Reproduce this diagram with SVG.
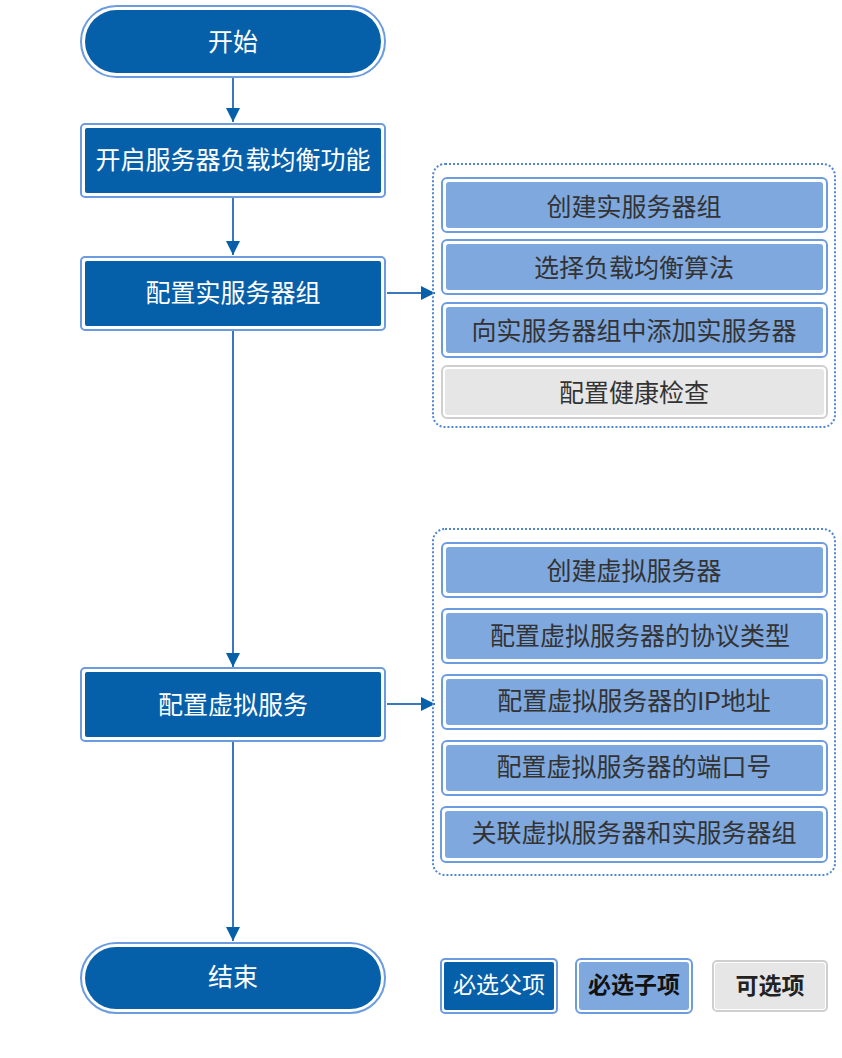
<svg xmlns="http://www.w3.org/2000/svg" width="842" height="1058" viewBox="0 0 842 1058">
<defs>
<style>
.t{font-family:"Liberation Sans","Noto Sans CJK SC",sans-serif;font-size:25px;text-anchor:middle;dominant-baseline:central}
.w{fill:#ffffff}
.d{fill:#333333}
.ob{fill:#ffffff;stroke:#6C9BE0;stroke-width:2}
.df{fill:#0660A9}
.lf{fill:#7EA8DE}
.ogray{fill:#ffffff;stroke:#CFCFCF;stroke-width:2}
.gf{fill:#E6E6E6}
.grp{fill:none;stroke:#4F86D6;stroke-width:2;stroke-dasharray:2 2}
.c{stroke:#3A78BE;stroke-width:2;fill:none}
.lg{font-size:23px}
</style>
<marker id="ah" viewBox="0 0 10 10" refX="10" refY="5" markerWidth="7" markerHeight="7" markerUnits="strokeWidth" orient="auto">
<path d="M0,0 L10,5 L0,10 z" fill="#0660A9"/>
</marker>
</defs>
<rect width="842" height="1058" fill="#ffffff"/>

<g id="connectors">
<line class="c" x1="233" y1="78" x2="233" y2="122" marker-end="url(#ah)"/>
<line class="c" x1="233" y1="198" x2="233" y2="255" marker-end="url(#ah)"/>
<line class="c" x1="233" y1="331" x2="233" y2="667" marker-end="url(#ah)"/>
<line class="c" x1="233" y1="742" x2="233" y2="941" marker-end="url(#ah)"/>
<line class="c" x1="387" y1="293" x2="435" y2="293" marker-end="url(#ah)"/>
<line class="c" x1="387" y1="704" x2="435" y2="704" marker-end="url(#ah)"/>
</g>

<g id="start">
<rect class="ob" x="81" y="6" width="304" height="71" rx="35.5"/>
<rect class="df" x="85" y="10" width="296" height="63" rx="31.5"/>
<text class="t w" x="233" y="42">开始</text>
</g>

<g id="enable">
<rect class="ob" x="81" y="124" width="304" height="73" rx="4"/>
<rect class="df" x="85" y="128" width="296" height="65" rx="2"/>
<text class="t w" x="233" y="160">开启服务器负载均衡功能</text>
</g>

<g id="cfg-real">
<rect class="ob" x="81" y="257" width="304" height="73" rx="4"/>
<rect class="df" x="85" y="261" width="296" height="65" rx="2"/>
<text class="t w" x="233" y="293">配置实服务器组</text>
</g>

<g id="cfg-virtual">
<rect class="ob" x="81" y="668" width="304" height="73" rx="4"/>
<rect class="df" x="85" y="672" width="296" height="65" rx="2"/>
<text class="t w" x="233" y="705">配置虚拟服务</text>
</g>

<g id="end">
<rect class="ob" x="81" y="943" width="304" height="70" rx="35"/>
<rect class="df" x="85" y="947" width="296" height="62" rx="31"/>
<text class="t w" x="233" y="977">结束</text>
</g>

<g id="group1">
<rect class="grp" x="433" y="164" width="402" height="263" rx="12"/>
</g>
<g id="g1-1">
<rect class="ob" x="442" y="178" width="385" height="54" rx="5"/>
<rect class="lf" x="446" y="182" width="377" height="46" rx="3"/>
<text class="t d" x="634" y="207">创建实服务器组</text>
</g>
<g id="g1-2">
<rect class="ob" x="442" y="240" width="385" height="54" rx="5"/>
<rect class="lf" x="446" y="244" width="377" height="46" rx="3"/>
<text class="t d" x="634" y="268">选择负载均衡算法</text>
</g>
<g id="g1-3">
<rect class="ob" x="442" y="303" width="385" height="54" rx="5"/>
<rect class="lf" x="446" y="307" width="377" height="46" rx="3"/>
<text class="t d" x="634" y="331">向实服务器组中添加实服务器</text>
</g>
<g id="g1-4">
<rect class="ogray" x="442" y="366" width="385" height="52" rx="5"/>
<rect class="gf" x="445" y="369" width="379" height="46" rx="3"/>
<text class="t d" x="634" y="393">配置健康检查</text>
</g>

<g id="group2">
<rect class="grp" x="433" y="529" width="402" height="346" rx="12"/>
</g>
<g id="g2-1">
<rect class="ob" x="442" y="543" width="385" height="54" rx="5"/>
<rect class="lf" x="446" y="547" width="377" height="46" rx="3"/>
<text class="t d" x="634" y="571">创建虚拟服务器</text>
</g>
<g id="g2-2">
<rect class="ob" x="442" y="609" width="385" height="54" rx="5"/>
<rect class="lf" x="446" y="613" width="377" height="46" rx="3"/>
<text class="t d" x="640" y="636">配置虚拟服务器的协议类型</text>
</g>
<g id="g2-3">
<rect class="ob" x="442" y="675" width="385" height="54" rx="5"/>
<rect class="lf" x="446" y="679" width="377" height="46" rx="3"/>
<text class="t d" x="634" y="701">配置虚拟服务器的IP地址</text>
</g>
<g id="g2-4">
<rect class="ob" x="442" y="741" width="385" height="54" rx="5"/>
<rect class="lf" x="446" y="745" width="377" height="46" rx="3"/>
<text class="t d" x="634" y="767">配置虚拟服务器的端口号</text>
</g>
<g id="g2-5">
<rect class="ob" x="441" y="807" width="386" height="55" rx="5"/>
<rect class="lf" x="445" y="811" width="378" height="47" rx="3"/>
<text class="t d" x="634" y="833">关联虚拟服务器和实服务器组</text>
</g>

<g id="legend-parent">
<rect class="ob" x="441" y="959" width="116" height="54" rx="4"/>
<rect class="df" x="444" y="962" width="110" height="48" rx="2"/>
<text class="t w lg" x="499" y="985">必选父项</text>
</g>
<g id="legend-child">
<rect class="ob" x="576" y="959" width="116" height="54" rx="5"/>
<rect class="lf" x="579" y="962" width="110" height="48" rx="3"/>
<text class="t lg" x="634" y="985" style="fill:#111;font-weight:bold">必选子项</text>
</g>
<g id="legend-optional">
<rect class="ogray" x="713" y="961" width="114" height="50" rx="4"/>
<rect class="gf" x="715" y="963" width="110" height="46" rx="3"/>
<text class="t lg" x="770" y="986" style="fill:#222;font-weight:bold">可选项</text>
</g>
</svg>
